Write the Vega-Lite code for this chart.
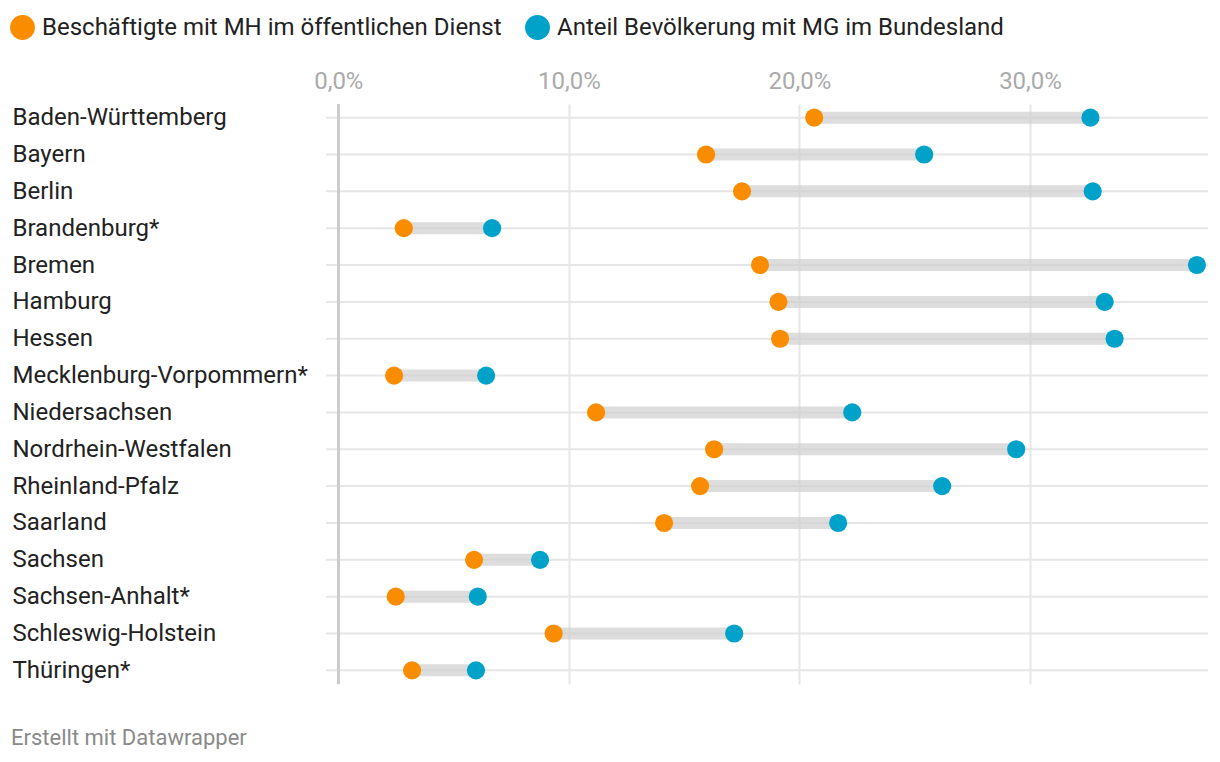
{
  "$schema": "https://vega.github.io/schema/vega-lite/v6.json",
  "width": 882,
  "height": 580,
  "padding": {"left": 10, "top": 15, "right": 0, "bottom": 0},
  "background": "white",
  "config": {
    "font": "Roboto",
    "view": {"stroke": null}
  },
  "title": {
    "text": "Erstellt mit Datawrapper",
    "orient": "bottom",
    "anchor": "start",
    "frame": "group",
    "dx": -315,
    "offset": 43,
    "fontSize": 22,
    "fontWeight": "normal",
    "color": "#8a8a8a",
    "font": "Roboto"
  },
  "data": {
    "values": [
      {"land": "Baden-Württemberg", "mh": 20.64, "mg": 32.62},
      {"land": "Bayern", "mh": 15.95, "mg": 25.41},
      {"land": "Berlin", "mh": 17.51, "mg": 32.72},
      {"land": "Brandenburg*", "mh": 2.84, "mg": 6.67},
      {"land": "Bremen", "mh": 18.29, "mg": 37.24},
      {"land": "Hamburg", "mh": 19.09, "mg": 33.24},
      {"land": "Hessen", "mh": 19.16, "mg": 33.67},
      {"land": "Mecklenburg-Vorpommern*", "mh": 2.42, "mg": 6.41},
      {"land": "Niedersachsen", "mh": 11.18, "mg": 22.29},
      {"land": "Nordrhein-Westfalen", "mh": 16.3, "mg": 29.4},
      {"land": "Rheinland-Pfalz", "mh": 15.69, "mg": 26.19},
      {"land": "Saarland", "mh": 14.13, "mg": 21.68},
      {"land": "Sachsen", "mh": 5.89, "mg": 8.75},
      {"land": "Sachsen-Anhalt*", "mh": 2.49, "mg": 6.05},
      {"land": "Schleswig-Holstein", "mh": 9.34, "mg": 17.17},
      {"land": "Thüringen*", "mh": 3.2, "mg": 5.97}
    ]
  },
  "encoding": {
    "y": {
      "field": "land",
      "type": "nominal",
      "sort": null,
      "scale": {"type": "point", "padding": 0.37},
      "axis": {
        "title": null,
        "orient": "left",
        "domain": false,
        "ticks": false,
        "grid": false,
        "labelAlign": "left",
        "labelBaseline": "middle",
        "labelPadding": 314,
        "labelFontSize": 24,
        "labelColor": "#222222",
        "labelFont": "Roboto",
        "labelLimit": 400
      }
    }
  },
  "layer": [
    {
      "mark": {"type": "rule", "color": "#e6e6e6", "strokeWidth": 2},
      "encoding": {}
    },
    {
      "mark": {"type": "rule", "color": "#cccccc", "strokeWidth": 2},
      "encoding": {
        "x": {"datum": 0, "type": "quantitative"},
        "y": null
      }
    },
    {
      "mark": {"type": "rule", "color": "#cfcfcf", "opacity": 0.7, "strokeWidth": 12},
      "encoding": {
        "x": {
          "field": "mh",
          "type": "quantitative",
          "scale": {"domain": [-0.534, 37.72], "nice": false, "zero": false},
          "axis": {
            "orient": "top",
            "title": null,
            "values": [0, 10, 20, 30],
            "labelExpr": "replace(format(datum.value, '.1f'), '.', ',') + '%'",
            "labelFontSize": 24,
            "labelColor": "#aaaaaa",
            "labelFont": "Roboto",
            "labelPadding": 11,
            "domain": false,
            "ticks": false,
            "grid": true,
            "gridColor": "#e6e6e6",
            "gridWidth": 2
          }
        },
        "x2": {"field": "mg"}
      }
    },
    {
      "transform": [
        {"fold": ["mh", "mg"], "as": ["key", "val"]},
        {
          "calculate": "datum.key === 'mh' ? 'Beschäftigte mit MH im öffentlichen Dienst' : 'Anteil Bevölkerung mit MG im Bundesland'",
          "as": "serie"
        }
      ],
      "mark": {"type": "circle", "size": 330, "opacity": 1},
      "encoding": {
        "x": {"field": "val", "type": "quantitative"},
        "color": {
          "field": "serie",
          "type": "nominal",
          "scale": {
            "domain": ["Beschäftigte mit MH im öffentlichen Dienst", "Anteil Bevölkerung mit MG im Bundesland"],
            "range": ["#fa8c00", "#00a2c9"]
          },
          "legend": {
            "title": null,
            "orient": "none",
            "direction": "horizontal",
            "legendX": -316,
            "legendY": -89,
            "symbolType": "circle",
            "symbolSize": 620,
            "symbolStrokeWidth": 0,
            "symbolOpacity": 1,
            "labelFontSize": 24,
            "labelColor": "#222222",
            "labelFont": "Roboto",
            "labelLimit": 800,
            "labelOffset": 7,
            "columnPadding": 23,
            "padding": 0
          }
        }
      }
    }
  ]
}
